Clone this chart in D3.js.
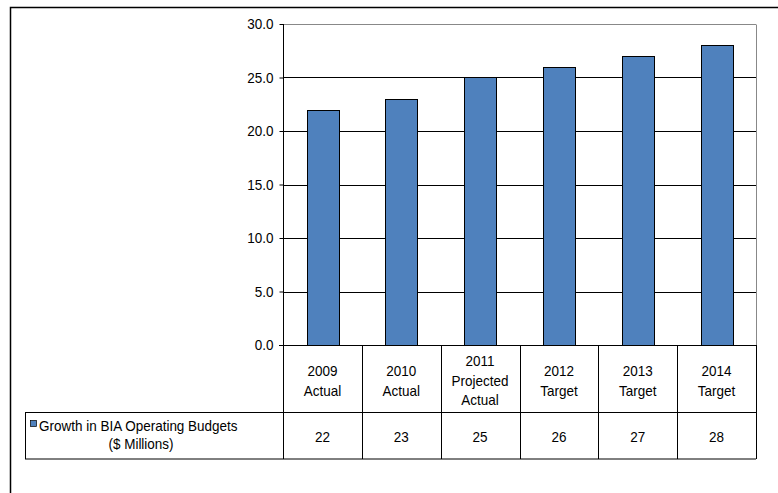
<!DOCTYPE html>
<html><head><meta charset="utf-8">
<script src="https://cdn.jsdelivr.net/npm/d3@7/dist/d3.min.js"></script>
<style>body{margin:0;background:#fff}svg{display:block}</style>
</head><body>
<script>
const categories = [["2009","Actual"],["2010","Actual"],["2011","Projected","Actual"],["2012","Target"],["2013","Target"],["2014","Target"]];
const values = [22,23,25,26,27,28];
const yTicks = [0,5,10,15,20,25,30];
const seriesName = ["Growth in BIA Operating Budgets","($ Millions)"];

const W=778,H=493;
const font = "'Liberation Sans',Arial,sans-serif";
const SX=0.9;
const svg=d3.select("body").append("svg").attr("width",W).attr("height",H);
svg.append("path").attr("d",`M10.5,${H+2} V7.5 H${W+2}`).attr("fill","none").attr("stroke","#000").attr("stroke-width",1.5);

const L=283,R=756,T=24,B=345;
const x=d3.scaleBand().domain(d3.range(categories.length)).range([L,R]).paddingInner(0.6).paddingOuter(0.3);
const xb=d3.scaleBand().domain(d3.range(categories.length)).range([L,R]);
const y=d3.scaleLinear().domain([0,30]).range([B,T]);

function label(g,tx,ty,str,anchor){
  return g.append("text").attr("transform",`translate(${tx},${ty}) scale(${SX},1)`)
   .attr("font-family",font).attr("font-size",15).attr("fill","#000")
   .attr("text-anchor",anchor||"start").text(str);
}

svg.append("g").selectAll("line").data(yTicks.filter(d=>d>0)).join("line")
 .attr("x1",L).attr("x2",R).attr("y1",d=>Math.round(y(d))+0.5).attr("y2",d=>Math.round(y(d))+0.5)
 .attr("stroke","#000").attr("stroke-width",1);
svg.append("line").attr("x1",R+0.5).attr("x2",R+0.5).attr("y1",T+0.5).attr("y2",B).attr("stroke","#888");
svg.append("line").attr("x1",L).attr("x2",R).attr("y1",T+0.5).attr("y2",T+0.5).attr("stroke","#888");

svg.append("g").selectAll("rect").data(values).join("rect")
 .attr("x",(d,i)=>Math.round(x(i))+0.5).attr("width",Math.round(x.bandwidth()))
 .attr("y",d=>Math.round(y(d))+0.5).attr("height",d=>B-Math.round(y(d)))
 .attr("fill","#4F81BD").attr("stroke","#000").attr("stroke-width",1);

const ya=svg.append("g").attr("transform",`translate(${L+0.5},0)`)
 .call(d3.axisLeft(y).tickValues(yTicks).tickFormat(d3.format(".1f")).tickSize(4).tickPadding(6));
ya.select(".domain").attr("stroke","#000").attr("d",`M0,${T}V${B}`);
ya.selectAll(".tick line").attr("stroke","#000");
ya.selectAll(".tick text").each(function(){
  const t=d3.select(this);
  t.attr("transform",`translate(-10,0) scale(${SX},1)`).attr("x",0)
   .attr("font-family",font).attr("font-size",15).attr("fill","#000");
});

const tb=svg.append("g");
const rowTop=B, rowMid=412.5, rowBot=459;
tb.append("line").attr("x1",L-4).attr("x2",R).attr("y1",B+0.5).attr("y2",B+0.5).attr("stroke","#000");
tb.append("line").attr("x1",25).attr("x2",R).attr("y1",rowMid).attr("y2",rowMid).attr("stroke","#000");
tb.append("line").attr("x1",25).attr("x2",R).attr("y1",rowBot).attr("y2",rowBot).attr("stroke","#000");
tb.append("line").attr("x1",25.5).attr("x2",25.5).attr("y1",rowMid).attr("y2",rowBot).attr("stroke","#000");
const vx=d3.range(categories.length+1).map(i=>i<categories.length?xb(i):R);
tb.selectAll("line.v").data(vx).join("line").attr("class","v")
 .attr("x1",d=>Math.round(d)+0.5).attr("x2",d=>Math.round(d)+0.5).attr("y1",B).attr("y2",rowBot).attr("stroke","#000");

categories.forEach((c,i)=>{
  const n=c.length, lh=19.5, cy=(rowTop+rowMid)/2+2;
  c.forEach((t,j)=>label(tb,xb(i)+xb.bandwidth()/2,cy+(j-(n-1)/2)*lh+5,t,"middle"));
});
values.forEach((v,i)=>label(tb,xb(i)+xb.bandwidth()/2,(rowMid+rowBot)/2+6,v,"middle"));

tb.append("rect").attr("x",30.5).attr("y",420.5).attr("width",6).attr("height",6)
 .attr("fill","#4F81BD").attr("stroke","#000").attr("stroke-width",0.7);
label(tb,39,431,seriesName[0]);
label(tb,141,449,seriesName[1],"middle");
</script>
</body></html>
